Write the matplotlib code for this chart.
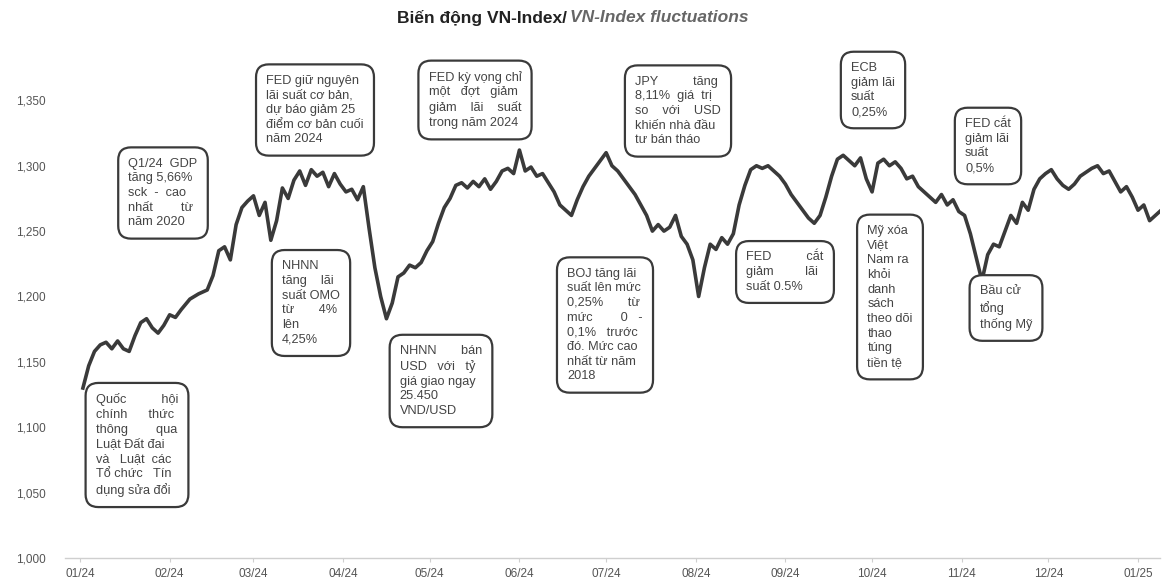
import pandas as pd
import matplotlib.pyplot as plt

plt.rcParams['font.family'] = ['Liberation Sans', 'DejaVu Sans']

# VN-Index (days since 2024-01-01, index value)
days = [1, 3, 5, 7, 9, 11, 13, 15, 17, 19, 21, 23, 25, 27, 29, 31, 33, 35, 38, 41,
        44, 46, 48, 50, 52, 54, 56, 58, 60, 62, 64, 66, 68, 70, 72, 74, 76, 78, 80, 82,
        84, 86, 88, 90, 92, 94, 96, 98, 100, 102, 104, 106, 108, 110, 112, 114, 116, 118, 120, 122,
        124, 126, 128, 130, 132, 134, 136, 138, 140, 142, 144, 146, 148, 150, 152, 154, 156, 158, 160, 162,
        164, 166, 168, 170, 172, 174, 176, 178, 180, 182, 184, 186, 188, 190, 192, 194, 196, 198, 200, 202,
        204, 206, 208, 210, 212, 214, 216, 218, 220, 222, 224, 226, 228, 230, 232, 234, 236, 238, 240, 242,
        244, 246, 248, 250, 252, 254, 256, 258, 260, 262, 264, 266, 268, 270, 272, 274, 276, 278, 280, 282,
        284, 286, 288, 290, 292, 294, 296, 298, 300, 302, 304, 306, 308, 310, 312, 314, 316, 318, 320, 322,
        324, 326, 328, 330, 332, 334, 336, 338, 340, 342, 344, 346, 348, 350, 352, 354, 356, 358, 360, 362,
        364, 366, 368, 370, 372, 374]
values = [1130, 1147, 1158, 1163, 1165, 1160, 1166, 1160, 1158, 1170, 1180, 1183, 1176, 1172, 1178, 1186, 1184, 1190, 1198, 1202,
          1205, 1216, 1235, 1238, 1228, 1255, 1268, 1273, 1277, 1262, 1272, 1243, 1258, 1283, 1275, 1289, 1296, 1285, 1297, 1292,
          1295, 1284, 1294, 1286, 1280, 1282, 1274, 1284, 1252, 1222, 1200, 1183, 1195, 1215, 1218, 1224, 1222, 1226, 1235, 1242,
          1256, 1268, 1275, 1285, 1287, 1283, 1288, 1284, 1290, 1282, 1288, 1296, 1298, 1294, 1312, 1296, 1299, 1292, 1294, 1287,
          1280, 1270, 1266, 1262, 1274, 1284, 1292, 1298, 1304, 1310, 1300, 1296, 1290, 1284, 1278, 1270, 1262, 1250, 1255, 1250,
          1253, 1262, 1246, 1240, 1228, 1200, 1222, 1240, 1236, 1245, 1240, 1248, 1270, 1285, 1297, 1300, 1298, 1300, 1296, 1292,
          1286, 1278, 1272, 1266, 1260, 1256, 1262, 1276, 1292, 1305, 1308, 1304, 1300, 1306, 1290, 1280, 1302, 1305, 1300, 1303,
          1298, 1290, 1292, 1284, 1280, 1276, 1272, 1278, 1270, 1274, 1265, 1262, 1248, 1230, 1212, 1232, 1240, 1238, 1250, 1262,
          1256, 1272, 1266, 1282, 1290, 1294, 1297, 1290, 1285, 1282, 1286, 1292, 1295, 1298, 1300, 1294, 1296, 1288, 1280, 1284,
          1276, 1266, 1270, 1258, 1262, 1266]

month_labels = ['01/24', '02/24', '03/24', '04/24', '05/24', '06/24', '07/24',
                '08/24', '09/24', '10/24', '11/24', '12/24', '01/25']
y_ticks = [1000, 1050, 1100, 1150, 1200, 1250, 1300, 1350]

# event notes: (text, x, y in figure pixels of the box centre)
notes = [
    ("Quốc          hội\nchính      thức\nthông        qua\nLuật Đất đai\nvà   Luật  các\nTổ chức   Tín\ndụng sửa đổi", 137, 445),
    ("Q1/24  GDP\ntăng 5,66%\nsck  -  cao\nnhất        từ\nnăm 2020", 163, 193),
    ("FED giữ nguyên\nlãi suất cơ bản,\ndự báo giảm 25\nđiểm cơ bản cuối\nnăm 2024", 315, 110),
    ("NHNN\ntăng    lãi\nsuất OMO\ntừ       4%\nlên\n4,25%", 311, 303),
    ("NHNN       bán\nUSD   với   tỷ\ngiá giao ngay\n25.450\nVND/USD", 441, 381),
    ("FED kỳ vọng chỉ\nmột   đợt   giảm\ngiảm    lãi    suất\ntrong năm 2024", 475, 100),
    ("BOJ tăng lãi\nsuất lên mức\n0,25%       từ\nmức        0   -\n0,1%   trước\nđó. Mức cao\nnhất từ năm\n2018", 605, 325),
    ("JPY          tăng\n8,11%  giá  trị\nso    với    USD\nkhiến nhà đầu\ntư bán tháo", 678, 111),
    ("FED          cắt\ngiảm         lãi\nsuất 0.5%", 785, 272),
    ("ECB\ngiảm lãi\nsuất\n0,25%", 873, 90),
    ("Mỹ xóa\nViệt\nNam ra\nkhỏi\ndanh\nsách\ntheo dõi\nthao\ntúng\ntiền tệ", 890, 297),
    ("FED cắt\ngiảm lãi\nsuất\n0,5%", 988, 146),
    ("Bầu cử\ntổng\nthống Mỹ", 1006, 308),
]

W, H = 1164, 586
fig = plt.figure(figsize=(W / 100, H / 100), dpi=100)
ax = fig.add_axes([65 / W, 1 - 558 / H, (1160 - 65) / W, (558 - 35) / H])

start = pd.Timestamp('2024-01-01')
dates = start + pd.to_timedelta(days, unit='D')
ax.plot(dates, values, color='#3a3a3a', lw=2.6, solid_joinstyle='round')

ax.set_ylim(1000, 1400)
ax.set_xlim(start - pd.Timedelta(days=5.2), start + pd.Timedelta(days=373.6))
ax.set_yticks(y_ticks)
ax.set_yticklabels([f'{v:,}' for v in y_ticks])
ticks = pd.date_range('2024-01-01', '2025-01-01', freq='MS')
ax.set_xticks(ticks)
ax.set_xticklabels(month_labels)

for s in ['top', 'right', 'left']:
    ax.spines[s].set_visible(False)
ax.spines['bottom'].set_color('#cfcfcf')
ax.spines['bottom'].set_linewidth(1.0)
ax.tick_params(axis='y', length=0, pad=14, labelsize=8.5, labelcolor='#555555')
ax.tick_params(axis='x', length=3, color='#cfcfcf', pad=4, labelsize=8.5, labelcolor='#555555')

fig.text(567 / W, 1 - 18 / H, 'Biến động VN-Index/', ha='right', va='center',
         fontsize=12.5, fontweight='bold', color='#222222')
fig.text(570 / W, 1 - 18 / H, 'VN-Index fluctuations', ha='left', va='center',
         fontsize=12.5, fontweight='bold', style='italic', color='#666666')

for txt, px, py in notes:
    fig.text(px / W, 1 - py / H, txt, ha='center', va='center', multialignment='left',
             fontsize=9.2, color='#444444', linespacing=1.3,
             bbox=dict(boxstyle='round,pad=0.8,rounding_size=1.0', fc='white',
                       ec='#3a3a3a', lw=1.6))

fig.savefig('out.png', dpi=100)
